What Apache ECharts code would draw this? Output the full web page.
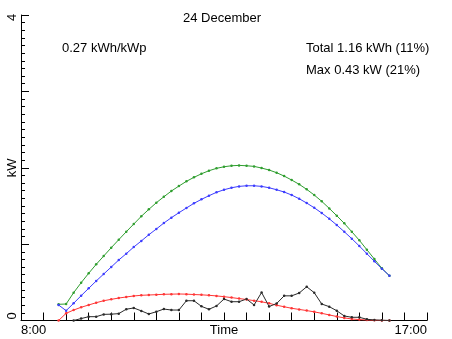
<!DOCTYPE html>
<html>
<head>
<meta charset="utf-8">
<script src="https://cdn.jsdelivr.net/npm/echarts@6/dist/echarts.min.js"></script>
<style>
html,body{margin:0;padding:0;background:#fff;}
#chart{width:452px;height:339px;}
</style>
</head>
<body>
<div id="chart"></div>
<script>
// ---- data ----
var titleText = '24 December';
var yieldText = '0.27 kWh/kWp';
var totalText = 'Total 1.16 kWh (11%)';
var maxText = 'Max 0.43 kW (21%)';

var times = ['8:50','9:00','9:10','9:20','9:30','9:40','9:50','10:00','10:10','10:20',
  '10:30','10:40','10:50','11:00','11:10','11:20','11:30','11:40','11:50','12:00',
  '12:10','12:20','12:30','12:40','12:50','13:00','13:10','13:20','13:30','13:40',
  '13:50','14:00','14:10','14:20','14:30','14:40','14:50','15:00','15:10','15:20',
  '15:30','15:40','15:50','16:00','16:10'];

var greenVals = [0.212,0.216,0.364,0.495,0.618,0.735,0.844,0.953,1.058,1.162,
  1.263,1.364,1.455,1.542,1.620,1.695,1.760,1.822,1.874,1.921,
  1.961,1.992,2.013,2.026,2.031,2.026,2.018,1.996,1.970,1.935,
  1.891,1.839,1.783,1.717,1.643,1.560,1.468,1.372,1.272,1.162,
  1.050,0.927,0.805,0.683,0.586];

var blueVals = [0.203,0.129,0.225,0.325,0.421,0.517,0.609,0.700,0.792,0.875,
  0.962,1.041,1.123,1.198,1.276,1.346,1.411,1.473,1.534,1.586,
  1.634,1.678,1.712,1.738,1.756,1.764,1.764,1.756,1.738,1.712,
  1.682,1.643,1.594,1.538,1.476,1.407,1.332,1.250,1.162,1.071,
  0.975,0.875,0.775,0.678,0.586];

var redVals = [0,0.094,0.137,0.173,0.203,0.233,0.259,0.277,0.294,0.308,
  0.321,0.330,0.334,0.338,0.343,0.345,0.347,0.345,0.340,0.336,
  0.330,0.322,0.312,0.300,0.287,0.275,0.260,0.245,0.225,0.200,
  0.180,0.160,0.145,0.130,0.113,0.094,0.073,0.052,0.034,0.020,
  0.012,0.007,0.003,0.001,0];

var blackVals = [null,null,0,0.025,0.050,0.050,0.080,0.083,0.090,0.148,
  0.164,0.126,0.085,0.115,0.150,0.137,0.137,0.259,0.259,0.185,
  0.147,0.190,0.281,0.246,0.246,0.281,0.203,0.367,0.183,0.222,
  0.323,0.323,0.360,0.442,0.364,0.216,0.181,0.128,0.059,0.042,
  0.042,0.016,0.007,0.004,0];

var xTickTimes = ['8:00','12:30','17:00'];
var xTickNames = ['8:00','Time','17:00'];
var yTickValues = [0,2,4];
var yTickNames = ['0','kW','4'];

// ---- helpers ----
function toMin(s){ var p=s.split(':'); return (+p[0])*60 + (+p[1]); }
function pairs(vals){ return times.map(function(t,i){ return [toMin(t), vals[i]]; }); }
var xTickMins = xTickTimes.map(toMin);

var FONT = '"Liberation Sans", Arial, Helvetica, sans-serif';

function mkSeries(vals, color){
  return {
    type:'line', data:pairs(vals), symbol:'circle', symbolSize:2.5,
    showSymbol:true, connectNulls:false, animation:false,
    lineStyle:{color:color, width:1},
    itemStyle:{color:color},
    emphasis:{disabled:true}
  };
}

var yRichKeys = ['lo','mid','hi'];

var chart = echarts.init(document.getElementById('chart'), null, {renderer:'canvas'});
chart.setOption({
  backgroundColor:'#ffffff',
  animation:false,
  textStyle:{fontFamily:FONT},
  grid:{left:21, right:25, top:15, bottom:18.5, containLabel:false},
  xAxis:{
    type:'value', min:480, max:1020, interval:30,
    axisLine:{show:true, lineStyle:{color:'#000', width:1}},
    axisTick:{show:true, inside:true, length:8, lineStyle:{color:'#000'}},
    splitLine:{show:false},
    axisLabel:{
      show:true, margin:3, color:'#000', fontSize:13, fontFamily:FONT,
      showMinLabel:true, showMaxLabel:true,
      alignMinLabel:'left', alignMaxLabel:'right',
      formatter:function(v){ var i=xTickMins.indexOf(v); return i>=0 ? xTickNames[i] : ''; }
    }
  },
  yAxis:{
    type:'value', min:0, max:4, interval:1,
    axisLine:{show:true, lineStyle:{color:'#000', width:1}},
    axisTick:{show:true, inside:true, length:8, lineStyle:{color:'#000'}},
    minorTick:{show:true, splitNumber:10, length:4, lineStyle:{color:'#000'}},
    splitLine:{show:false},
    axisLabel:{
      show:true, rotate:90, margin:2, color:'#000', fontSize:13, fontFamily:FONT,
      formatter:function(v){ var i=yTickValues.indexOf(v); return i>=0 ? '{'+yRichKeys[i]+'|'+yTickNames[i]+'}' : ''; },
      rich:{
        lo:{fontSize:13, fontFamily:FONT, color:'#000', padding:[0,0,0,9]},
        mid:{fontSize:13, fontFamily:FONT, color:'#000'},
        hi:{fontSize:13, fontFamily:FONT, color:'#000', padding:[0,5,0,0]}
      }
    }
  },
  graphic:[
    {type:'text', x:222, y:18.5, style:{text:titleText, font:'13px '+FONT, fill:'#000', align:'center', verticalAlign:'middle'}},
    {type:'text', x:62, y:48.5, style:{text:yieldText, font:'13px '+FONT, fill:'#000', align:'left', verticalAlign:'middle'}},
    {type:'text', x:306, y:48.5, style:{text:totalText, font:'13px '+FONT, fill:'#000', align:'left', verticalAlign:'middle'}},
    {type:'text', x:306, y:70, style:{text:maxText, font:'13px '+FONT, fill:'#000', align:'left', verticalAlign:'middle'}}
  ],
  series:[
    mkSeries(greenVals, '#2f9e2f'),
    mkSeries(blueVals, '#3c3cff'),
    mkSeries(redVals, '#ff3535'),
    mkSeries(blackVals, '#2a2a2a')
  ]
});
</script>
</body>
</html>
